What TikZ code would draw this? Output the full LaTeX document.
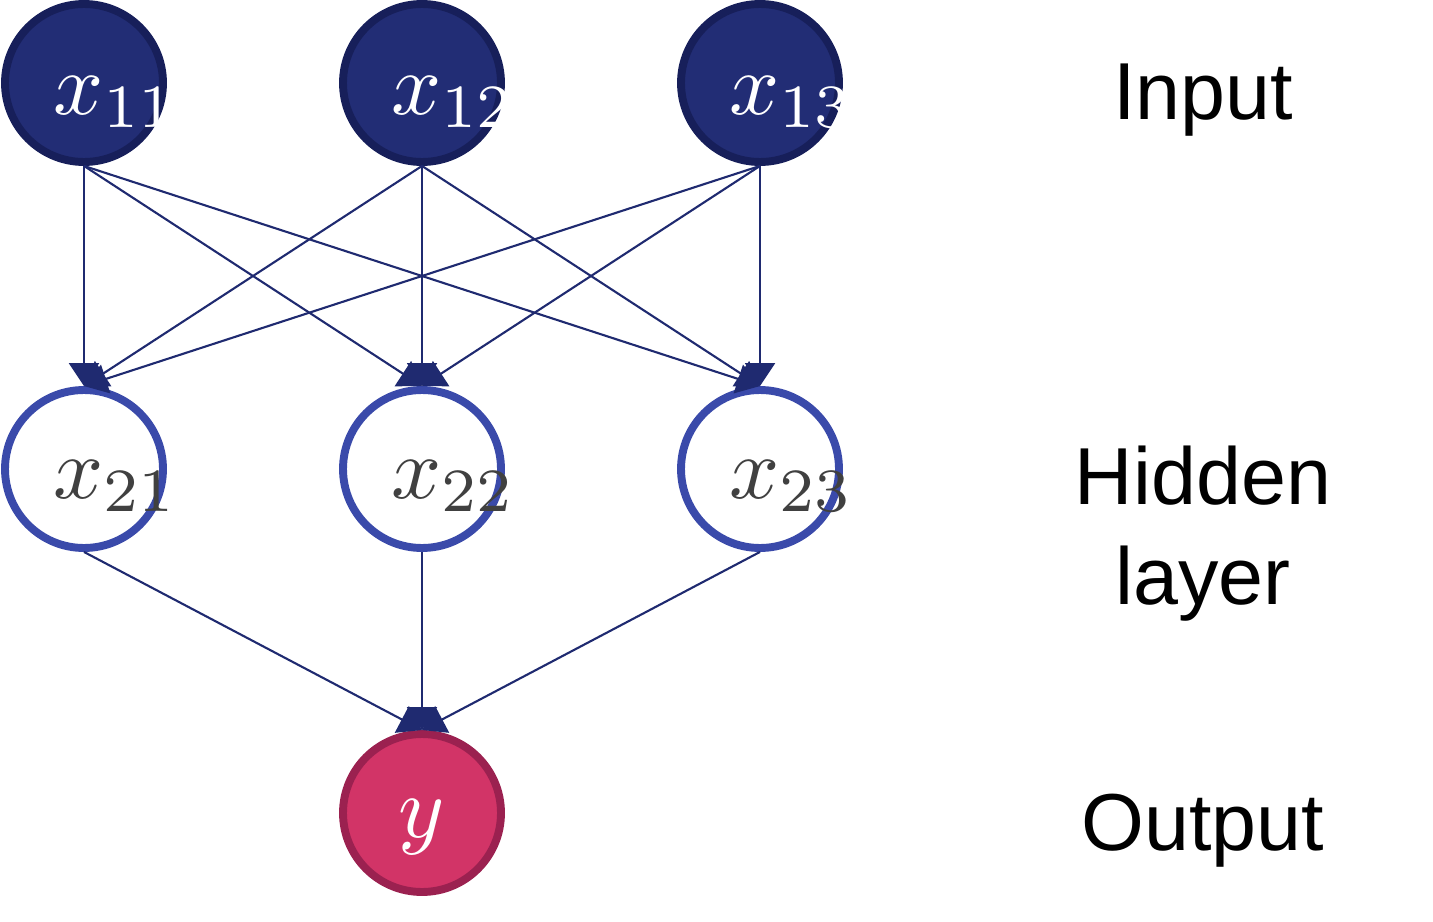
\documentclass[tikz,border=0pt]{standalone}
\usepackage{fontspec}
\setsansfont{Liberation Sans}
\usepackage{tikz}
\usetikzlibrary{arrows.meta,positioning}
\definecolor{inputfill}{HTML}{222D75}
\definecolor{inputdraw}{HTML}{171F5A}
\definecolor{hiddendraw}{HTML}{3A4AAA}
\definecolor{hiddentext}{HTML}{404040}
\definecolor{outputfill}{HTML}{D23467}
\definecolor{outputdraw}{HTML}{9B2150}
\definecolor{edgeblue}{HTML}{1F2A70}

\begin{document}
\begin{tikzpicture}[x=0.02cm,y=-0.02cm,
    neuron/.style={circle,minimum size=3.16cm,inner sep=0pt,line width=4.5pt},
    inneuron/.style={neuron,fill=inputfill,draw=inputdraw},
    hidneuron/.style={neuron,fill=white,draw=hiddendraw},
    outneuron/.style={neuron,fill=outputfill,draw=outputdraw},
    mathlbl/.style={inner sep=0pt,font=\normalsize,scale=5,transform shape},
    layerlbl/.style={font=\sffamily\fontsize{46}{57}\selectfont,align=center},
    edge/.style={-{Triangle[width=17pt,length=13pt]},line width=1.2pt,draw=edgeblue}]
  \useasboundingbox (0,0) rectangle (1433,922);

  % Neurons
  \node[inneuron] (in1) at (84,83) {};
  \node[inneuron] (in2) at (422,83) {};
  \node[inneuron] (in3) at (760,83) {};
  \node[hidneuron] (hid1) at (84,469) {};
  \node[hidneuron] (hid2) at (422,469) {};
  \node[hidneuron] (hid3) at (760,469) {};
  \node[outneuron] (out) at (422,813) {};

  % Neuron labels
  \foreach \i in {1,2,3}{
    \node[mathlbl,text=white] (xin\i) at ([shift={(32,19)}]in\i) {$x_{1\i}$};
    \node[mathlbl,text=hiddentext] (xhid\i) at ([shift={(32,17)}]hid\i) {$x_{2\i}$};
  }
  \node[mathlbl,text=white] (yout) at ([shift={(0,14)}]out) {$y$};

  % Connections
  \foreach \i in {1,2,3}{
    \foreach \j in {1,2,3}
      \draw[edge] (in\i.south) -- (hid\j.north);
    \draw[edge] (hid\i.south) -- (out.north);
  }

  % Layer names
  \node[layerlbl,anchor=base] (inname) at (1203,120) {Input};
  \node[layerlbl,anchor=north] (hidname) at (1203,440) {Hidden\\layer};
  \node[layerlbl,anchor=base] (outname) at (1203,850) {Output};
\end{tikzpicture}
\end{document}
